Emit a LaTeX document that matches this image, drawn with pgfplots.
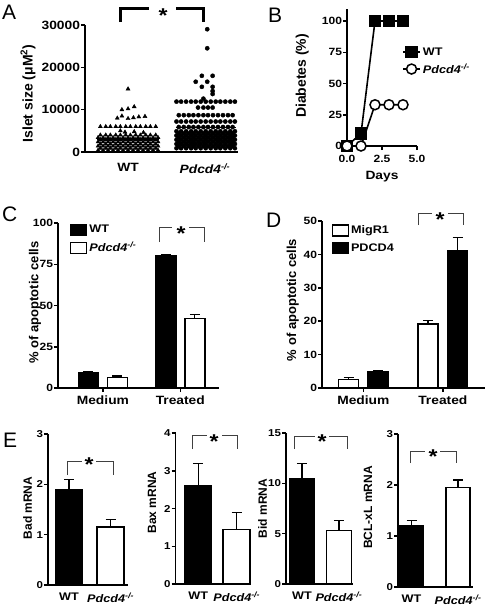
\documentclass[border=0pt]{standalone}
\usepackage{fontspec}
\setmainfont{Liberation Sans}[FakeStretch=1.15]
\newfontfamily\vfont{Liberation Sans}
\usepackage{pgfplots}
\pgfplotsset{compat=1.18}
\newcommand{\fs}[1]{\fontsize{#1}{#1}\selectfont}
\newcommand{\KO}{\textit{Pdcd4}\textsuperscript{\textit{-/-}}}
\pgfplotsset{
  prism/.style={
    scale only axis, anchor=south west, clip=false,
    axis lines*=left, axis line style={line width=1.5pt},
    tick align=outside, major tick length=4pt,
    tick style={line width=1.5pt, black},
    tick label style={font=\bfseries\fs{10.5}},
    yticklabel style={inner xsep=0.8pt},
    /pgf/number format/assume math mode=true,
    ylabel style={anchor=center, font=\vfont\bfseries\fs{13}},
    xlabel style={anchor=center, font=\bfseries\fs{12}},
  },
  ebar/.style={error bars/y dir=plus, error bars/y explicit,
    error bars/error bar style={line width=1.3pt, black},
    error bars/error mark options={rotate=90, mark size=5pt, line width=1.3pt, black}},
  blk/.style={fill=black, draw=black, line width=1.5pt, ebar},
  wht/.style={fill=white, draw=black, line width=1.5pt, ebar},
  boxleg/.style={legend image code/.code={\draw[##1, line width=1.3pt] (0pt,-5.5pt) rectangle (16pt,5.5pt);}},
}
\begin{document}
\begin{tikzpicture}
\path[use as bounding box] (0,0) rectangle (486pt,-606pt);

% ---------------- Panel A ----------------
\begin{axis}[prism, at={(85pt,-152pt)}, width=153pt, height=127pt,
  xmin=0.44, xmax=2.43, ymin=0, ymax=30000,
  xtick={1,2}, xticklabels={WT,\KO}, xtick style={draw=none},
  xticklabel style={font=\bfseries\fs{12}, yshift=-4pt},
  ytick={0,10000,20000,30000}, scaled y ticks=false,
  yticklabel style={/pgf/number format/1000 sep={}, font=\bfseries\fs{12}},
  ylabel={Islet size (μM\textsuperscript{2})},
  ylabel style={at={(axis description cs:-0.373,0.46)}, font=\vfont\bfseries\fs{14}},
]
\addplot[only marks, mark=triangle*, mark size=2.3pt, black] coordinates {
(0.61,400) (0.675,400) (0.74,400) (0.805,400) (0.87,400) (0.935,400) (1.0,400) (1.065,400) (1.13,400) (1.195,400) (1.26,400) (1.325,400) (1.39,400)
(0.64,900) (0.71,900) (0.77,900) (0.84,900) (0.90,900) (0.97,900) (1.03,900) (1.10,900) (1.16,900) (1.23,900) (1.29,900) (1.36,900)
(0.61,1400) (0.675,1400) (0.74,1400) (0.805,1400) (0.87,1400) (0.935,1400) (1.0,1400) (1.065,1400) (1.13,1400) (1.195,1400) (1.26,1400) (1.325,1400) (1.39,1400)
(0.64,1900) (0.71,1900) (0.77,1900) (0.84,1900) (0.90,1900) (0.97,1900) (1.03,1900) (1.10,1900) (1.16,1900) (1.23,1900) (1.29,1900) (1.36,1900)
(0.61,2400) (0.675,2400) (0.74,2400) (0.805,2400) (0.87,2400) (0.935,2400) (1.0,2400) (1.065,2400) (1.13,2400) (1.195,2400) (1.26,2400) (1.325,2400) (1.39,2400)
(0.64,2900) (0.71,2900) (0.77,2900) (0.84,2900) (0.90,2900) (0.97,2900) (1.03,2900) (1.10,2900) (1.16,2900) (1.23,2900) (1.29,2900) (1.36,2900)
(0.61,3400) (0.675,3400) (0.74,3400) (0.805,3400) (0.87,3400) (0.935,3400) (1.0,3400) (1.065,3400) (1.13,3400) (1.195,3400) (1.26,3400) (1.325,3400) (1.39,3400)
(0.64,4000) (0.71,4000) (0.77,4000) (0.84,4000) (0.90,4000) (0.97,4000) (1.03,4000) (1.10,4000) (1.16,4000) (1.23,4000) (1.29,4000) (1.36,4000)
(0.96,4700) (1.08,4800) (1.20,4600) (0.90,5000)
(0.64,6000) (0.71,6000) (0.77,6000) (0.84,6000) (0.90,6000) (0.97,6000) (1.03,6000) (1.10,6000) (1.16,6000) (1.23,6000) (1.29,6000) (1.36,6000)
(0.86,8000) (0.92,8500) (1.00,7900) (1.07,8100) (1.14,8300) (1.22,8400)
(0.92,10000) (1.00,10200) (1.08,10700) (1.00,14900)
};
\addplot[only marks, mark=*, mark size=2.1pt, black] coordinates {
(1.63,900) (1.69,900) (1.755,900) (1.82,900) (1.88,900) (1.945,900) (2.01,900) (2.075,900) (2.14,900) (2.20,900) (2.265,900) (2.33,900) (2.39,900)
(1.66,1400) (1.725,1400) (1.79,1400) (1.85,1400) (1.915,1400) (1.98,1400) (2.04,1400) (2.105,1400) (2.17,1400) (2.235,1400) (2.30,1400) (2.36,1400)
(1.63,1900) (1.69,1900) (1.755,1900) (1.82,1900) (1.88,1900) (1.945,1900) (2.01,1900) (2.075,1900) (2.14,1900) (2.20,1900) (2.265,1900) (2.33,1900) (2.39,1900)
(1.66,2400) (1.725,2400) (1.79,2400) (1.85,2400) (1.915,2400) (1.98,2400) (2.04,2400) (2.105,2400) (2.17,2400) (2.235,2400) (2.30,2400) (2.36,2400)
(1.63,2900) (1.69,2900) (1.755,2900) (1.82,2900) (1.88,2900) (1.945,2900) (2.01,2900) (2.075,2900) (2.14,2900) (2.20,2900) (2.265,2900) (2.33,2900) (2.39,2900)
(1.66,3400) (1.725,3400) (1.79,3400) (1.85,3400) (1.915,3400) (1.98,3400) (2.04,3400) (2.105,3400) (2.17,3400) (2.235,3400) (2.30,3400) (2.36,3400)
(1.63,3900) (1.69,3900) (1.755,3900) (1.82,3900) (1.88,3900) (1.945,3900) (2.01,3900) (2.075,3900) (2.14,3900) (2.20,3900) (2.265,3900) (2.33,3900) (2.39,3900)
(1.66,4400) (1.725,4400) (1.79,4400) (1.85,4400) (1.915,4400) (1.98,4400) (2.04,4400) (2.105,4400) (2.17,4400) (2.235,4400) (2.30,4400) (2.36,4400)
(1.63,4900) (1.69,4900) (1.755,4900) (1.82,4900) (1.88,4900) (1.945,4900) (2.01,4900) (2.075,4900) (2.14,4900) (2.20,4900) (2.265,4900) (2.33,4900) (2.39,4900)
(1.66,5900) (1.725,5900) (1.79,5900) (1.85,5900) (1.915,5900) (1.98,5900) (2.04,5900) (2.105,5900) (2.17,5900) (2.235,5900) (2.30,5900) (2.36,5900)
(1.63,7200) (1.69,7200) (1.755,7200) (1.82,7200) (1.88,7200) (1.945,7200) (2.01,7200) (2.075,7200) (2.14,7200) (2.20,7200) (2.265,7200) (2.33,7200) (2.39,7200)
(1.66,8700) (1.725,8700) (1.79,8700) (1.85,8700) (1.915,8700) (1.98,8700) (2.04,8700) (2.105,8700) (2.17,8700) (2.235,8700) (2.30,8700) (2.36,8700)
(1.91,10500) (1.98,10500) (2.04,10500) (2.10,10500)
(1.63,11900) (1.69,11900) (1.755,11900) (1.82,11900) (1.88,11900) (1.945,11900) (2.01,11900) (2.075,11900) (2.14,11900) (2.20,11900) (2.265,11900) (2.33,11900) (2.39,11900)
(1.98,12600) (2.10,13700) (2.10,14400) (1.96,15400) (2.10,15400) (1.88,16600) (2.03,16600) (1.96,18000) (2.10,18000) (2.03,24500) (2.03,29000)
};
\addplot[black, line width=1.5pt] coordinates {(0.60,3100) (1.40,3100)};
\addplot[black, line width=1.5pt] coordinates {(1.62,5800) (2.40,5800)};
\end{axis}

% ---------------- Panel B ----------------
\begin{axis}[prism, at={(347pt,-146pt)}, width=70pt, height=137.5pt,
  xmin=0, xmax=5, ymin=0, ymax=110,
  xtick={0,2.5,5}, xticklabels={0.0,2.5,5.0},
  xticklabel style={yshift=-2pt},
  ytick={0,25,50,75,100},
  xlabel={Days}, xlabel style={at={(axis description cs:0.5,-0.225)}, font=\bfseries\fs{12}},
  ylabel={Diabetes (\%)},
  ylabel style={at={(axis description cs:-0.64,0.51)}, font=\vfont\bfseries\fs{14}},
  legend style={draw=none, fill=none, at={(axis cs:3.93,68)}, anchor=west,
    font=\bfseries\fs{11}, row sep=3pt, inner sep=0pt, cells={anchor=west}},
]
\addplot[black, line width=1.6pt, mark=square*, mark size=5.5pt, mark options={fill=black}] coordinates {(0,0) (1,10) (2,100) (3,100) (4,100)};
\addlegendentry{WT}
\addplot[black, line width=1.6pt, mark=*, mark size=5pt, mark options={fill=white, line width=1.5pt}] coordinates {(0,0) (1,0) (2,33) (3,33) (4,33)};
\addlegendentry{\KO}
\end{axis}

% ---------------- Panel C ----------------
\begin{axis}[prism, ybar, boxleg, at={(58pt,-388pt)}, width=161pt, height=165pt,
  xmin=0.42, xmax=2.50, ymin=0, ymax=100,
  xtick={1,2}, xticklabels={Medium,Treated},
  ytick={0,25,50,75,100},
  xticklabel style={font=\bfseries\fs{12}},
  ylabel={\% of apoptotic cells},
  ylabel style={at={(axis description cs:-0.143,0.518)}},
  legend style={draw=none, fill=none, at={(axis cs:0.575,100)}, anchor=north west,
    font=\bfseries\fs{11}, row sep=4pt, inner sep=0pt, cells={anchor=west}},
]
\addplot[blk, bar shift=-14.5pt, bar width=20pt] coordinates {(1,9.2) +- (0,1.0) (2,80.3) +- (0,0.5)};
\addlegendentry{WT}
\addplot[wht, bar shift=14.5pt, bar width=20pt] coordinates {(1,6.3) +- (0,1.0) (2,42) +- (0,2.5)};
\addlegendentry{\KO}
\end{axis}

% ---------------- Panel D ----------------
\begin{axis}[prism, ybar, boxleg, at={(322pt,-388pt)}, width=163pt, height=167pt,
  xmin=0.48, xmax=2.53, ymin=0, ymax=50,
  xtick={1,2}, xticklabels={Medium,Treated},
  ytick={0,10,20,30,40,50}, yticklabels={0,10,20,30,40,50},
  xticklabel style={font=\bfseries\fs{12}},
  ylabel={\% of apoptotic cells},
  ylabel style={at={(axis description cs:-0.18,0.527)}},
  legend style={draw=none, fill=none, at={(axis cs:0.60,49.2)}, anchor=north west,
    font=\bfseries\fs{11}, row sep=4pt, inner sep=0pt, cells={anchor=west}},
]
\addplot[wht, bar shift=-14.75pt, bar width=20pt] coordinates {(1,2.6) +- (0,0.5) (2,19.2) +- (0,1.0)};
\addlegendentry{MigR1}
\addplot[blk, bar shift=14.75pt, bar width=20pt] coordinates {(1,4.8) +- (0,0.3) (2,41) +- (0,4)};
\addlegendentry{PDCD4}
\end{axis}

% ---------------- Panel E: Bad ----------------
\begin{axis}[prism, ybar, at={(48pt,-585pt)}, width=80pt, height=151pt,
  xmin=0.494, xmax=2.42, ymin=0, ymax=3,
  xtick={1,2}, xticklabels={WT,\KO}, xtick style={draw=none},
  xticklabel style={font=\bfseries\fs{11}},
  ytick={0,1,2,3}, yticklabel style={font=\bfseries\fs{10}},
  ylabel={Bad mRNA}, ylabel style={at={(axis description cs:-0.256,0.51)}, font=\vfont\bfseries\fs{12}},
]
\addplot[blk, bar shift=0pt, bar width=27pt] coordinates {(1,1.9) +- (0,0.2)};
\addplot[wht, bar shift=0pt, bar width=27pt] coordinates {(2,1.15) +- (0,0.15)};
\end{axis}

% ---------------- Panel E: Bax ----------------
\begin{axis}[prism, ybar, at={(175.5pt,-584pt)}, width=75.5pt, height=151pt,
  xmin=0.41, xmax=2.37, ymin=0, ymax=4,
  xtick={1,2}, xticklabels={WT,\KO}, xtick style={draw=none},
  xticklabel style={font=\bfseries\fs{11}},
  ytick={0,1,2,3,4}, yticklabel style={font=\bfseries\fs{10}},
  ylabel={Bax mRNA}, ylabel style={at={(axis description cs:-0.31,0.54)}, font=\vfont\bfseries\fs{12}},
]
\addplot[blk, bar shift=0pt, bar width=27pt] coordinates {(1,2.6) +- (0,0.6)};
\addplot[wht, bar shift=0pt, bar width=27pt] coordinates {(2,1.45) +- (0,0.45)};
\end{axis}

% ---------------- Panel E: Bid ----------------
\begin{axis}[prism, ybar, at={(286pt,-584pt)}, width=67pt, height=151pt,
  xmin=0.57, xmax=2.38, ymin=0, ymax=15,
  xtick={1,2}, xticklabels={WT,\KO}, xtick style={draw=none},
  xticklabel style={font=\bfseries\fs{11}},
  ytick={0,5,10,15}, yticklabel style={font=\bfseries\fs{10}},
  ylabel={Bid mRNA}, ylabel style={at={(axis description cs:-0.35,0.50)}, font=\vfont\bfseries\fs{12}},
]
\addplot[blk, bar shift=0pt, bar width=25pt] coordinates {(1,10.5) +- (0,1.5)};
\addplot[wht, bar shift=0pt, bar width=25pt] coordinates {(2,5.3) +- (0,1.0)};
\end{axis}

% ---------------- Panel E: BCL-xL ----------------
\begin{axis}[prism, ybar, at={(398pt,-587pt)}, width=75pt, height=153pt,
  xmin=0.71, xmax=2.32, ymin=0, ymax=3,
  xtick={1,2}, xticklabels={WT,\KO}, xtick style={draw=none},
  xticklabel style={font=\bfseries\fs{11}},
  ytick={0,1,2,3}, yticklabel style={font=\bfseries\fs{10}},
  ylabel={BCL-xL mRNA}, ylabel style={at={(axis description cs:-0.40,0.52)}, font=\vfont\bfseries\fs{12}},
]
\addplot[blk, bar shift=0pt, bar width=24pt] coordinates {(1,1.2) +- (0,0.1)};
\addplot[wht, bar shift=0pt, bar width=24pt] coordinates {(2,1.95) +- (0,0.15)};
\end{axis}

% ---------------- annotations ----------------
\begin{scope}[font=\vfont\fs{21}]
\node[anchor=north west, inner sep=0] at (2pt,-5pt) {A};
\node[anchor=north west, inner sep=0] at (268pt,-8pt) {B};
\node[anchor=north west, inner sep=0] at (2pt,-207pt) {C};
\node[anchor=north west, inner sep=0] at (266pt,-213pt) {D};
\node[anchor=north west, inner sep=0] at (3pt,-433pt) {E};
\end{scope}
\draw[line width=3pt] (120pt,-22pt) -- (120pt,-8pt) -- (149pt,-8pt);
\draw[line width=3pt] (176pt,-8pt) -- (203pt,-8pt) -- (203pt,-22pt);
\begin{scope}[line width=0.9pt, black!75]
\draw (159pt,-242pt) -- (159pt,-227pt) -- (172pt,-227pt);
\draw (189pt,-227pt) -- (204pt,-227pt) -- (204pt,-242pt);
\draw (418pt,-225pt) -- (418pt,-213pt) -- (432pt,-213pt);
\draw (448pt,-213pt) -- (463pt,-213pt) -- (463pt,-225pt);
\draw (67pt,-475pt) -- (67pt,-461pt) -- (82pt,-461pt);
\draw (96pt,-461pt) -- (113pt,-461pt) -- (113pt,-475pt);
\draw (192pt,-449pt) -- (192pt,-435pt) -- (207pt,-435pt);
\draw (222pt,-435pt) -- (237pt,-435pt) -- (237pt,-449pt);
\draw (294pt,-449pt) -- (294pt,-436pt) -- (315pt,-436pt);
\draw (329pt,-436pt) -- (347pt,-436pt) -- (347pt,-449pt);
\draw (410pt,-463pt) -- (410pt,-451pt) -- (425pt,-451pt);
\draw (440pt,-451pt) -- (456pt,-451pt) -- (456pt,-463pt);
\end{scope}
\begin{scope}[every node/.style={anchor=base, inner sep=0, font=\bfseries\fs{20}}]
\node at (163pt,-22pt) {*};
\node at (181pt,-240.5pt) {*};
\node at (440pt,-226.5pt) {*};
\node at (89pt,-471.5pt) {*};
\node at (214pt,-448.5pt) {*};
\node at (322pt,-448.5pt) {*};
\node at (433pt,-463.5pt) {*};
\end{scope}
\end{tikzpicture}
\end{document}
